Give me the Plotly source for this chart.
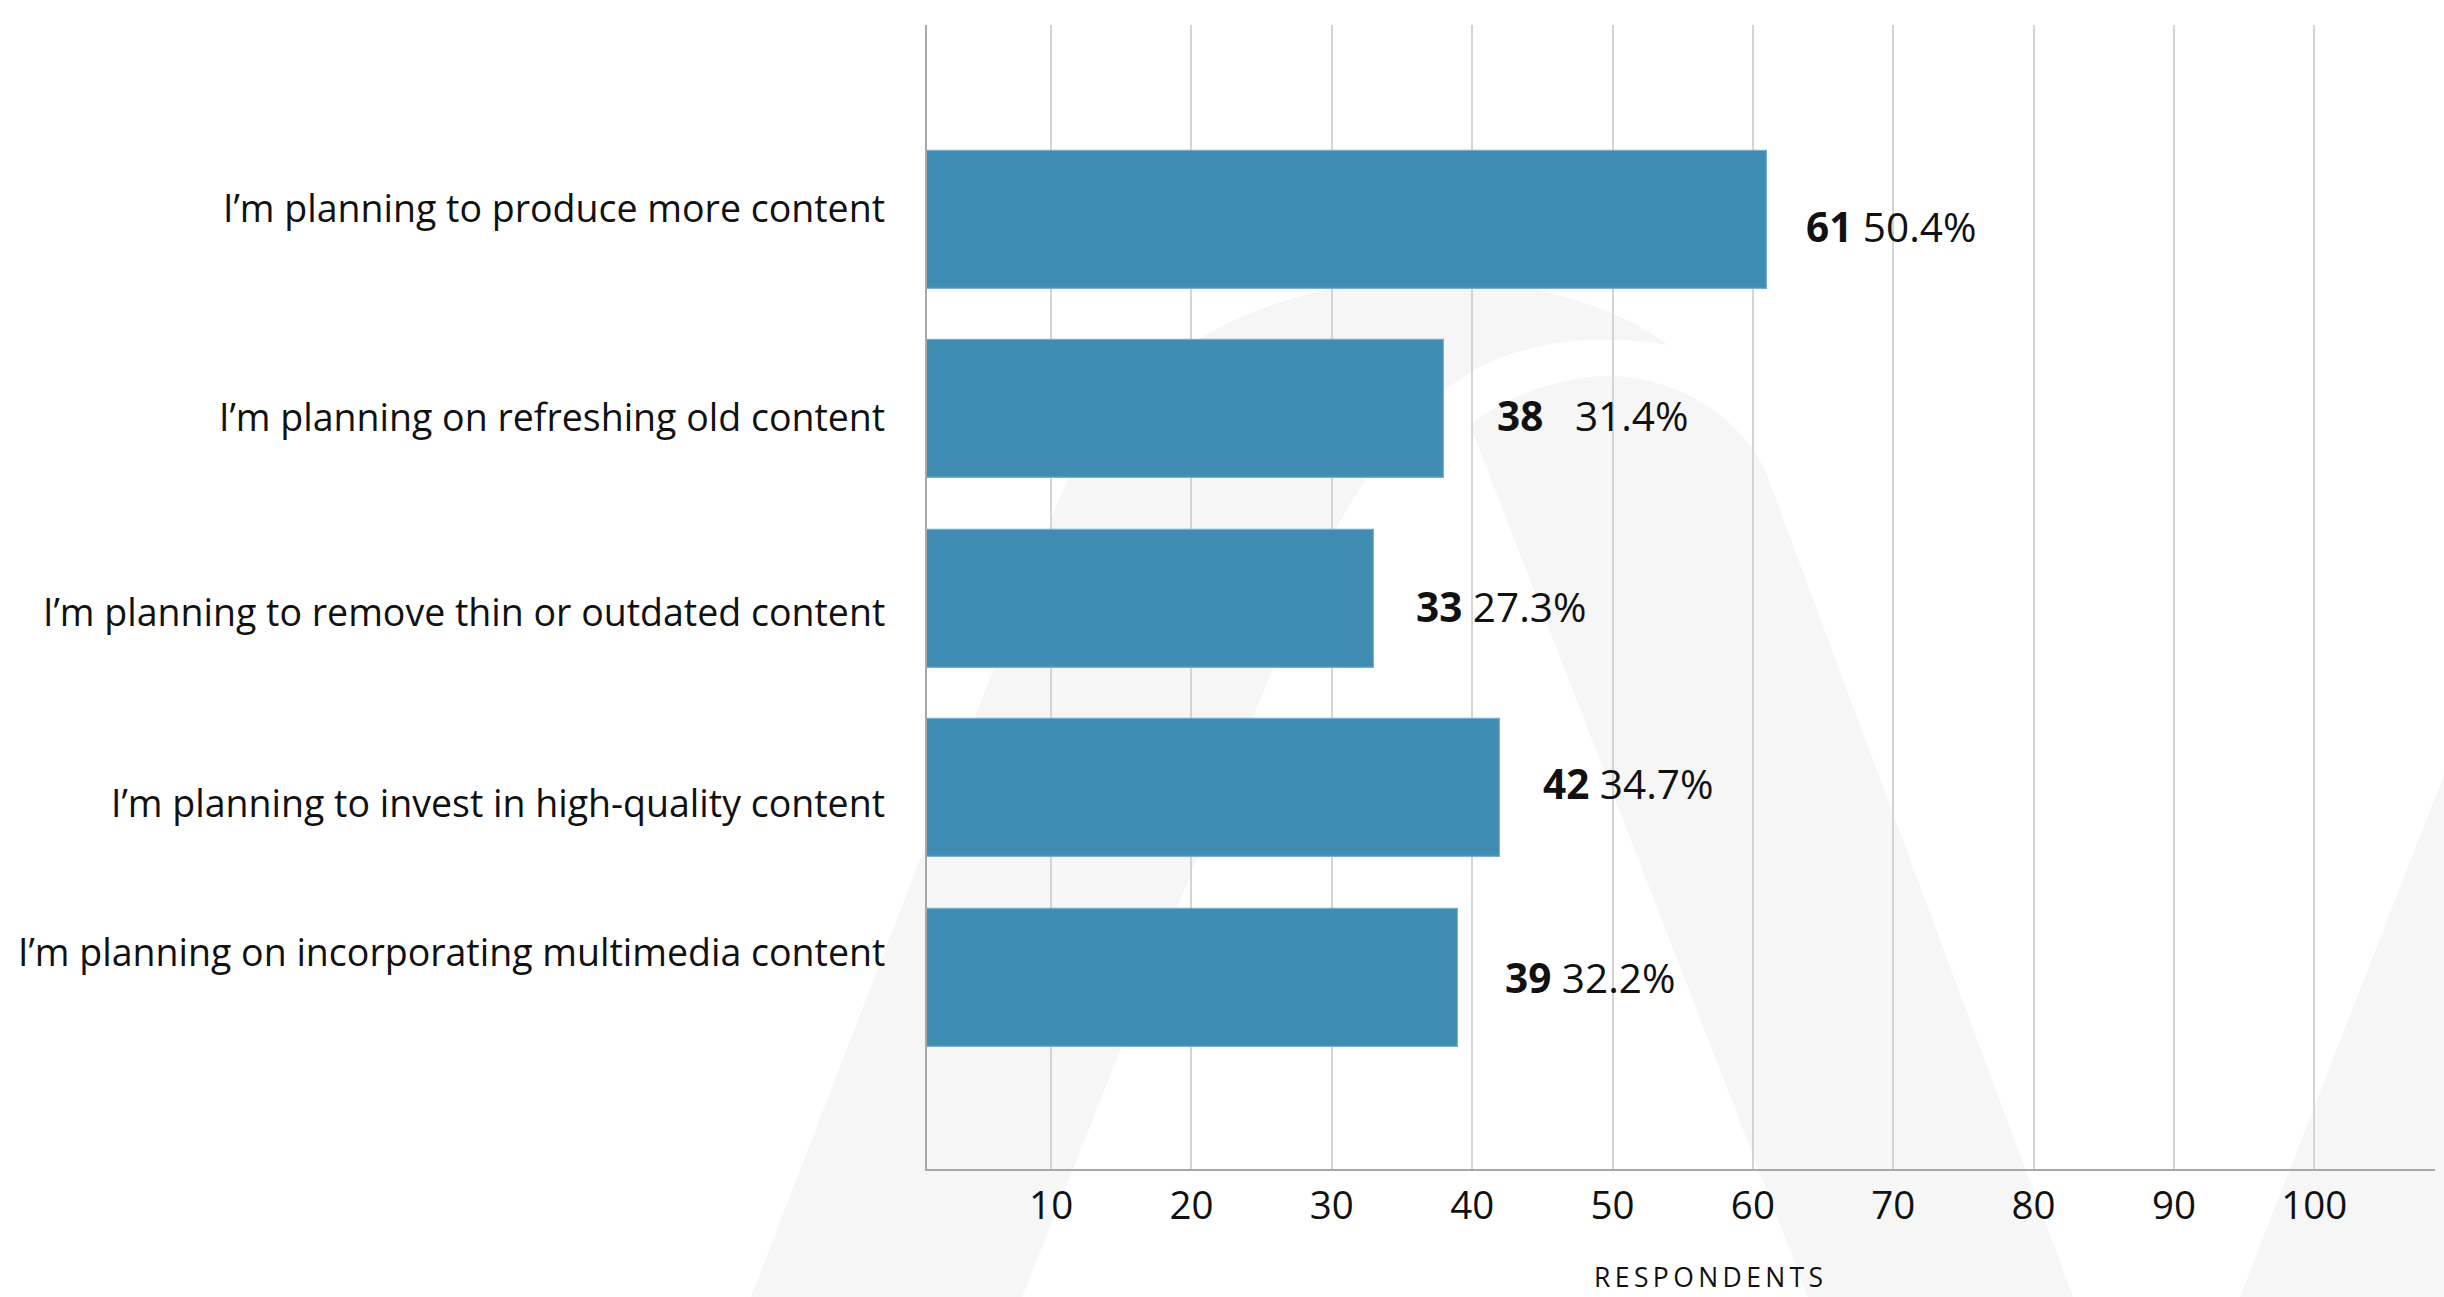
import plotly.graph_objects as go

# Survey answers, top to bottom
categories = [
    "I’m planning to produce more content",
    "I’m planning on refreshing old content",
    "I’m planning to remove thin or outdated content",
    "I’m planning to invest in high-quality content",
    "I’m planning on incorporating multimedia content",
]
respondents = [61, 38, 33, 42, 39]
shares = [50.4, 31.4, 27.3, 34.7, 32.2]
tick_values = [10, 20, 30, 40, 50, 60, 70, 80, 90, 100]

# Canvas and plot-area geometry (pixels)
W, H = 2444, 1297
ML, MR, MT, MB = 927, 9, 25, 128
PW, PH = W - ML - MR, H - MT - MB

FONT = "Open Sans"
INK = "#111111"
BAR = "#408db3"

# Small per-row nudges (px) for the text placement
label_dy = [-12, 7.5, 13, 14.5, -26]
value_dx = [37, 51, 40, 41, 45]
value_dy = [6.5, 6, 8, -5, 0]
value_gap = ["\u00a0", "\u00a0\u00a0\u00a0", "\u00a0", "\u00a0", "\u00a0"]

fig = go.Figure(
    go.Bar(
        x=respondents,
        y=categories,
        orientation="h",
        width=0.728,
        marker=dict(color=BAR, line=dict(color="#74aed0", width=1.2)),
        hoverinfo="skip",
    )
)


def to_paper(px, py):
    return (px - ML) / PW, 1 - (py - MT) / PH


def path(points, closed=True):
    """Build an SVG path in paper coordinates from pixel-space commands."""
    out = []
    for cmd, *pts in points:
        coords = []
        for px, py in pts:
            x, y = to_paper(px, py)
            coords.append(f"{x:.5f},{y:.5f}")
        out.append(cmd + " " + " ".join(coords))
    s = " ".join(out)
    return s + (" Z" if closed else "")


# Faint background emblem
emblem = [
    path([
        ("M", (751, 1297)),
        ("L", (1060, 497)),
        ("C", (1130, 340), (1280, 282), (1420, 280)),
        ("C", (1530, 279), (1615, 305), (1668, 345)),
        ("C", (1610, 335), (1545, 338), (1490, 362)),
        ("C", (1420, 395), (1360, 470), (1300, 600)),
        ("L", (1022, 1297)),
    ]),
    path([
        ("M", (1470, 425)),
        ("C", (1520, 387), (1580, 372), (1627, 377)),
        ("C", (1690, 385), (1740, 420), (1765, 470)),
        ("L", (2073, 1297)),
        ("L", (1808, 1297)),
    ]),
    path([
        ("M", (2240, 1297)),
        ("L", (2520, 580)),
        ("L", (2700, 580)),
        ("L", (2700, 1297)),
    ]),
]
shapes = [
    dict(type="path", path=p, xref="paper", yref="paper",
         fillcolor="#f6f6f6", line=dict(width=0), layer="below")
    for p in emblem
]

annotations = []
for i, cat in enumerate(categories):
    annotations.append(dict(
        x=0, xref="paper", y=cat, yref="y",
        xanchor="right", yanchor="middle",
        xshift=-40, yshift=-label_dy[i],
        text=cat, showarrow=False,
        font=dict(family=FONT, size=37.5, color=INK),
    ))
    annotations.append(dict(
        x=respondents[i], xref="x", y=cat, yref="y",
        xanchor="left", yanchor="middle",
        xshift=value_dx[i], yshift=-value_dy[i],
        text=f"<b>{respondents[i]}</b>{value_gap[i]}{shares[i]:.1f}%",
        showarrow=False,
        font=dict(family=FONT, size=40.5, color=INK),
    ))

# Axis title, letter-spaced, close to the bottom edge
annotations.append(dict(
    x=(1708 - ML) / PW, xref="paper", y=-MB / PH, yref="paper",
    xanchor="center", yanchor="bottom", yshift=0,
    text="\u2009".join("RESPONDENTS"), showarrow=False,
    font=dict(family=FONT, size=26.5, color=INK),
))

fig.update_layout(
    width=W, height=H, autosize=False,
    margin=dict(l=ML, r=MR, t=MT, b=MB, pad=0),
    paper_bgcolor="white", plot_bgcolor="rgba(0,0,0,0)",
    showlegend=False,
    shapes=shapes,
    annotations=annotations,
    font=dict(family=FONT, color=INK),
    bargap=0,
)
fig.update_xaxes(
    range=[1.155, 108.6],
    tickmode="array", tickvals=tick_values,
    ticktext=[str(v) for v in tick_values],
    showgrid=True, gridcolor="#d4d4d4", gridwidth=1.5,
    zeroline=False,
    showline=True, linecolor="#a8a8a8", linewidth=2,
    ticks="", ticklabelstandoff=2,
    tickfont=dict(family=FONT, size=38.5, color=INK),
    fixedrange=True,
)
fig.update_yaxes(
    type="category",
    range=[5.008, -1.026],
    showticklabels=False,
    showgrid=False, zeroline=False,
    showline=True, linecolor="#a8a8a8", linewidth=2,
    ticks="",
    fixedrange=True,
)

fig.write_html("out.html", config={"displayModeBar": False})
